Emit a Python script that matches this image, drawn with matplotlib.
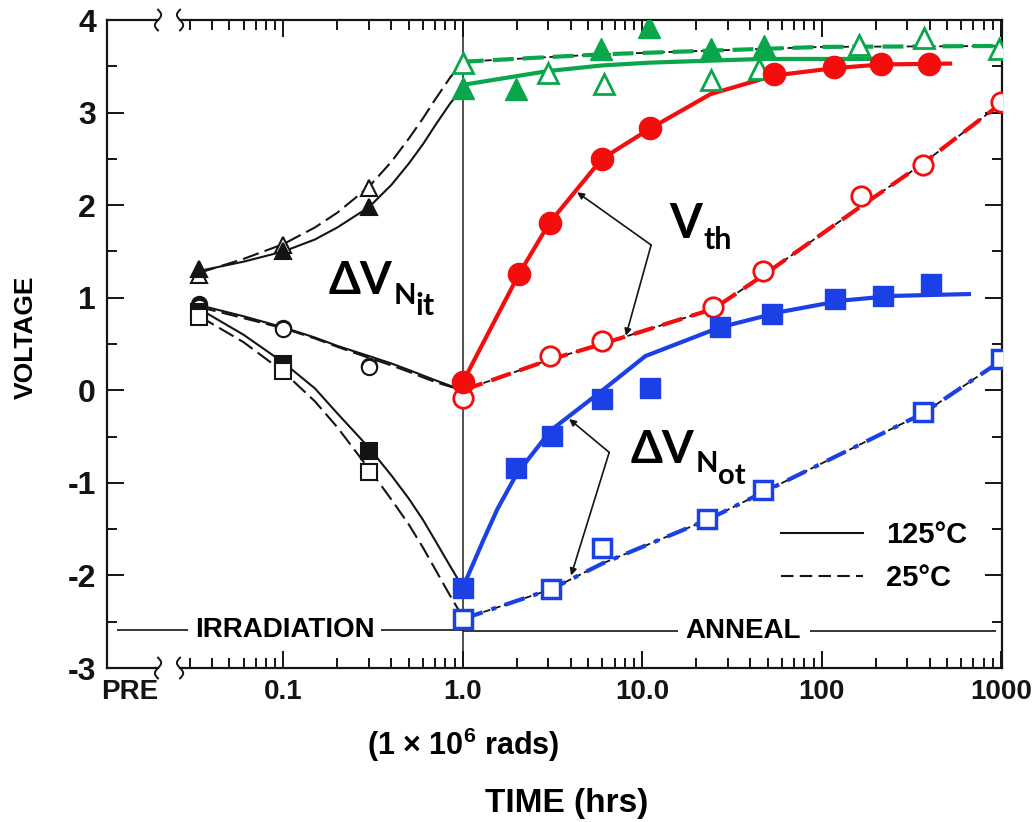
import numpy as np
import matplotlib
matplotlib.use("Agg")
import matplotlib.pyplot as plt
from matplotlib.lines import Line2D
from matplotlib.ticker import FixedLocator, NullFormatter

FAM = ['Liberation Sans Narrow', 'DejaVu Sans Condensed', 'Liberation Sans', 'DejaVu Sans']
plt.rcParams['font.family'] = FAM
plt.rcParams['font.weight'] = 'bold'
plt.rcParams['axes.labelweight'] = 'bold'
plt.rcParams['axes.unicode_minus'] = False
plt.rcParams['mathtext.fontset'] = 'custom'
plt.rcParams['mathtext.rm'] = 'Liberation Sans:bold'
plt.rcParams['mathtext.bf'] = 'Liberation Sans:bold'

# colours of the anneal curves
RED = '#f40d0d'
GREEN = '#0aa64b'
BLUE = '#1a40e6'
INK = '#141414'

# ---- irradiation phase (x = dose in 1e6 rads, first point = PRE) ----
irr_x = [0.034, 0.1, 0.3]
irr_tri_125 = [1.31, 1.50, 1.98]
irr_tri_25 = [1.25, 1.57, 2.19]
irr_cir_125 = [0.93, 0.67, 0.26]
irr_cir_25 = [0.90, 0.66, 0.25]
irr_sq_125 = [0.85, 0.28, -0.65]
irr_sq_25 = [0.79, 0.21, -0.88]

# fitted curves
irr_curve_x = [0.034, 0.06, 0.1, 0.15, 0.2, 0.3, 0.4, 0.5, 0.6, 0.7, 0.85, 1.0]
tri_curve_125 = [1.29, 1.39, 1.50, 1.63, 1.76, 1.98, 2.22, 2.45, 2.66, 2.86, 3.10, 3.27]
tri_curve_25 = [1.27, 1.42, 1.58, 1.76, 1.92, 2.20, 2.47, 2.72, 2.94, 3.14, 3.38, 3.55]
cir_curve_125 = [0.92, 0.80, 0.68, 0.57, 0.48, 0.37, 0.29, 0.22, 0.16, 0.11, 0.05, 0.0]
cir_curve_25 = [0.90, 0.78, 0.67, 0.56, 0.47, 0.35, 0.27, 0.20, 0.14, 0.09, 0.04, 0.0]
sq_curve_125 = [0.88, 0.60, 0.30, 0.02, -0.25, -0.62, -0.92, -1.17, -1.40, -1.62, -1.90, -2.13]
sq_curve_25 = [0.80, 0.52, 0.20, -0.12, -0.40, -0.85, -1.18, -1.45, -1.70, -1.93, -2.22, -2.45]

# ---- anneal phase (x = hours) ----
# Vth
vth125_x = [1, 2.06, 3.04, 5.95, 11.1, 54, 117, 214, 396]
vth125_y = [0.09, 1.26, 1.81, 2.50, 2.83, 3.42, 3.49, 3.52, 3.52]
vth25_x = [1, 3.04, 5.95, 24.9, 47, 166, 366, 1000]
vth25_y = [-0.08, 0.37, 0.53, 0.90, 1.29, 2.10, 2.43, 3.11]
vth125_cx = [1, 2.06, 3.04, 5.95, 11.1, 24, 54, 117, 214, 519]
vth125_cy = [0.09, 1.26, 1.81, 2.50, 2.83, 3.20, 3.40, 3.48, 3.52, 3.53]
vth25_cx = [1, 3.04, 5.95, 24.9, 47, 166, 366, 1000]
vth25_cy = [0.0, 0.33, 0.50, 0.88, 1.24, 1.99, 2.45, 3.10]

# delta V_Nit
nit125_x = [1, 1.98, 5.9, 10.9, 24.3, 47.4]
nit125_y = [3.27, 3.26, 3.69, 3.92, 3.69, 3.72]
nit25_x = [1, 2.99, 6.1, 24, 44.5, 161, 371, 975]
nit25_y = [3.54, 3.43, 3.31, 3.35, 3.47, 3.73, 3.81, 3.69]
nit125_cx = [1, 3, 6, 11, 47, 198]
nit125_cy = [3.30, 3.45, 3.51, 3.54, 3.58, 3.58]
nit25_cx = [1, 3, 6, 24, 100, 1000]
nit25_cy = [3.55, 3.60, 3.63, 3.67, 3.71, 3.72]

# delta V_Not
not125_x = [1, 1.97, 3.12, 5.95, 11.1, 27, 53, 118, 219, 406]
not125_y = [-2.13, -0.84, -0.49, -0.09, 0.02, 0.68, 0.82, 0.99, 1.02, 1.15]
not25_x = [1, 3.09, 5.95, 23, 47.3, 366, 1000]
not25_y = [-2.47, -2.15, -1.70, -1.39, -1.08, -0.23, 0.34]
not125_cx = [1, 1.3, 1.56, 2, 3.1, 6, 10.4, 27, 60, 130, 250, 661]
not125_cy = [-2.13, -1.62, -1.28, -0.90, -0.43, 0.0, 0.37, 0.68, 0.85, 0.97, 1.02, 1.04]
not25_cx = [1, 3.09, 6, 23, 47.3, 366, 1000]
not25_cy = [-2.47, -2.15, -1.87, -1.40, -1.10, -0.25, 0.32]

xtick_vals = [0.014, 0.1, 1.0, 10.0, 100, 1000]
xtick_labels = ['PRE', '0.1', '1.0', '10.0', '100', '1000']

fig = plt.figure(figsize=(10.32, 8.22), dpi=100)
ax = fig.add_axes([0.1037, 0.1873, 0.8672, 0.7883])
ax.set_xscale('log')
ax.set_xlim(0.0104, 1010)
ax.set_ylim(-3, 4)

# vertical separator between irradiation and anneal
ax.axvline(1.0, color='#333333', lw=1.2, zorder=1)

# ---- black irradiation curves ----
dash_k = (8, 3)
for cy in [tri_curve_125, cir_curve_125, sq_curve_125]:
    ax.plot(irr_curve_x, cy, color=INK, lw=1.5, zorder=2)
for cy in [tri_curve_25, cir_curve_25, sq_curve_25]:
    ax.plot(irr_curve_x, cy, color=INK, lw=1.5, dashes=dash_k, zorder=2)

mk_k = dict(color=INK, ls='none', ms=11, mew=1.5, zorder=4)
ax.plot(irr_x, irr_tri_25, marker='^', mfc='white', **mk_k)
ax.plot(irr_x, irr_tri_125, marker='^', mfc=INK, **mk_k)
ax.plot(irr_x, irr_cir_125, marker='o', mfc=INK, **mk_k)
ax.plot(irr_x, irr_cir_25, marker='o', mfc='white', **mk_k)
ax.plot(irr_x, irr_sq_125, marker='s', mfc=INK, **mk_k)
ax.plot(irr_x, irr_sq_25, marker='s', mfc='white', **mk_k)

# ---- anneal curves (black original line under the coloured dashes) ----
dash_c = (5, 2.2)
for cx, cy in [(vth25_cx, vth25_cy), (nit25_cx, nit25_cy), (not25_cx, not25_cy)]:
    ax.plot(cx, cy, color=INK, lw=1.3, dashes=(4, 2), zorder=2)

ax.plot(vth125_cx, vth125_cy, color=RED, lw=3, zorder=3)
ax.plot(vth25_cx, vth25_cy, color=RED, lw=3, dashes=dash_c, zorder=3)
ax.plot(nit125_cx, nit125_cy, color=GREEN, lw=3, zorder=3)
ax.plot(nit25_cx, nit25_cy, color=GREEN, lw=3, dashes=dash_c, zorder=3)
ax.plot(not125_cx, not125_cy, color=BLUE, lw=3, zorder=3)
ax.plot(not25_cx, not25_cy, color=BLUE, lw=3, dashes=(5, 2.2, 1.2, 2.2), zorder=3)

ax.plot(nit25_x, nit25_y, ls='none', marker='^', ms=15, mfc='white', mec=GREEN, mew=2, zorder=5)
ax.plot(nit125_x, nit125_y, ls='none', marker='^', ms=16, color=GREEN, zorder=5)
ax.plot(vth25_x, vth25_y, ls='none', marker='o', ms=14, mfc='white', mec=RED, mew=2, zorder=5)
ax.plot(vth125_x, vth125_y, ls='none', marker='o', ms=16, color=RED, zorder=5)
ax.plot(not25_x, not25_y, ls='none', marker='s', ms=13, mfc='white', mec=BLUE, mew=2.5, zorder=5)
ax.plot(not125_x, not125_y, ls='none', marker='s', ms=15, color=BLUE, zorder=5)

# ---- phase labels ----
ax.hlines(-2.59, 0.0118, 0.0295, color=INK, lw=1.2)
ax.hlines(-2.59, 0.348, 1.0, color=INK, lw=1.2)
ax.hlines(-2.60, 1.0, 15.9, color=INK, lw=1.2)
ax.hlines(-2.60, 85.7, 938, color=INK, lw=1.2)
ax.text(0.1026, -2.59, 'IRRADIATION', ha='center', va='center', fontsize=20)
ax.text(36.5, -2.60, 'ANNEAL', ha='center', va='center', fontsize=20)

# ---- curve labels and arrows ----
lab = dict(family=['Lato', 'DejaVu Sans'], weight='bold', color='black')
ann = dict(arrowstyle='-|>', color=INK, lw=1.2, mutation_scale=10, shrinkA=0, shrinkB=0)

t1 = ax.text(0.178, 1.04, '\u0394V', fontsize=33, ha='left', va='baseline', **lab)
t1b = ax.annotate('N', xy=(1, 0), xycoords=t1, xytext=(1, -5), textcoords='offset points',
                  fontsize=21, ha='left', va='bottom', **lab)
ax.annotate('it', xy=(1, 0), xycoords=t1b, xytext=(0, -8), textcoords='offset points',
            fontsize=22, ha='left', va='bottom', **lab)

t2 = ax.text(14.2, 1.65, 'V', fontsize=34, ha='left', va='baseline', **lab)
ax.annotate('th', xy=(1, 0), xycoords=t2, xytext=(1, -6), textcoords='offset points',
            fontsize=22, ha='left', va='bottom', **lab)
ax.annotate('', xy=(4.33, 2.14), xytext=(11.2, 1.57), arrowprops=ann)
ax.annotate('', xy=(8.1, 0.59), xytext=(11.2, 1.57), arrowprops=ann)

t3 = ax.text(8.6, -0.78, '\u0394V', fontsize=33, ha='left', va='baseline', **lab)
t3b = ax.annotate('N', xy=(1, 0), xycoords=t3, xytext=(1, -5), textcoords='offset points',
                  fontsize=21, ha='left', va='bottom', **lab)
ax.annotate('ot', xy=(1, 0), xycoords=t3b, xytext=(0, -8), textcoords='offset points',
            fontsize=21, ha='left', va='bottom', **lab)
ax.annotate('', xy=(3.91, -0.31), xytext=(6.54, -0.67), arrowprops=ann)
ax.annotate('', xy=(4.01, -2.0), xytext=(6.54, -0.67), arrowprops=ann)

# legend
handles = [Line2D([], [], color=INK, lw=1.5), Line2D([], [], color=INK, lw=1.5, dashes=(6, 3))]
ax.legend(handles, ['125°C', '25°C'], loc='center left', bbox_to_anchor=(0.737, 0.172),
          frameon=False, fontsize=21, handlelength=2.8, handletextpad=0.8,
          labelspacing=0.5, borderpad=0)

# ---- axes styling ----
ax.xaxis.set_major_locator(FixedLocator(xtick_vals))
ax.set_xticklabels(xtick_labels)
minor = [m * 10.0 ** e for e in range(-2, 3) for m in range(2, 10)]
minor = [v for v in minor if v > 0.025]
ax.xaxis.set_minor_locator(FixedLocator(minor))
ax.xaxis.set_minor_formatter(NullFormatter())
ax.yaxis.set_major_locator(FixedLocator([-3, -2, -1, 0, 1, 2, 3, 4]))
ax.yaxis.set_minor_locator(FixedLocator([-2.5, -1.5, -0.5, 0.5, 1.5, 2.5, 3.5]))
ax.tick_params(which='both', direction='in', top=True, right=True, width=1.4,
               colors=INK, labelsize=23, pad=8)
ax.tick_params(axis='x', labelsize=20)
ax.tick_params(which='major', length=12)
ax.tick_params(which='minor', length=7)
ax.xaxis.get_major_ticks()[0].tick1line.set_visible(False)
ax.xaxis.get_major_ticks()[0].tick2line.set_visible(False)

for side in ['top', 'bottom']:
    ax.spines[side].set_visible(False)
for side in ['left', 'right']:
    ax.spines[side].set_linewidth(1.6)
    ax.spines[side].set_color(INK)

# broken top/bottom axis lines with squiggles
gx0, gx1 = 0.057, 0.0816
for yy in [0.0, 1.0]:
    ax.plot([0, gx0], [yy, yy], transform=ax.transAxes, color=INK, lw=1.6, clip_on=False)
    ax.plot([gx1, 1], [yy, yy], transform=ax.transAxes, color=INK, lw=1.6, clip_on=False)
    t = np.linspace(-1, 1, 30)
    for gx, s in [(gx0, 1), (gx1, -1)]:
        ax.plot(gx + s * 0.0035 * np.sin(np.pi * t), yy + 0.016 * t,
                transform=ax.transAxes, color=INK, lw=1.4, clip_on=False)

ax.set_ylabel('VOLTAGE', fontsize=19, fontweight='bold')
ax.yaxis.set_label_coords(-0.077, 0.511)
ax.set_xlabel('TIME (hrs)', fontsize=24, fontweight='bold')
ax.xaxis.set_label_coords(0.514, -0.185)
ax.text(1.0, -0.119, r'(1 $\times$ 10$^{6}$ rads)', transform=ax.get_xaxis_transform(),
        ha='center', va='center', fontsize=22)

fig.savefig('out.png', dpi=100)
